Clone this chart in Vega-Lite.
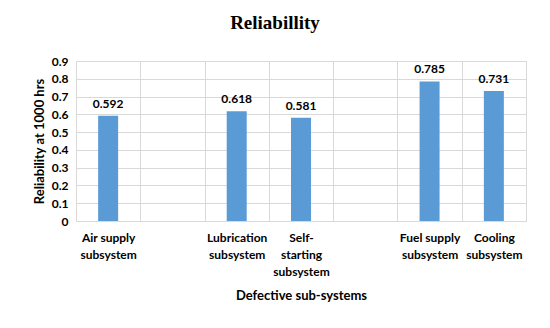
{
  "$schema": "https://vega.github.io/schema/vega-lite/v6.json",
  "width": 450,
  "height": 160,
  "autosize": {"type": "none"},
  "padding": {"left": 76, "top": 61, "right": 24, "bottom": 107},
  "background": "white",
  "title": {
    "text": "Reliabillity",
    "font": "Liberation Serif",
    "fontSize": 19,
    "fontWeight": "bold",
    "color": "#000000",
    "dx": -26,
    "offset": 22
  },
  "data": {
    "values": [
      {"subsystem": "Air supply subsystem", "reliability": 0.592},
      {"subsystem": "Lubrication subsystem", "reliability": 0.618},
      {"subsystem": "Self-starting subsystem", "reliability": 0.581},
      {"subsystem": "Fuel supply subsystem", "reliability": 0.785},
      {"subsystem": "Cooling subsystem", "reliability": 0.731}
    ]
  },
  "encoding": {
    "x": {
      "field": "subsystem",
      "type": "nominal",
      "sort": null,
      "scale": {
        "domain": ["Air supply subsystem", "gap1", "Lubrication subsystem", "Self-starting subsystem", "gap2", "Fuel supply subsystem", "Cooling subsystem"],
        "paddingInner": 0,
        "paddingOuter": 0
      },
      "axis": {
        "title": "Defective sub-systems",
        "titleFont": "Lato",
        "titleFontSize": 13,
        "titleFontWeight": "bold",
        "titleColor": "#000000",
        "titlePadding": 12,
        "labelAngle": 0,
        "labelFont": "Lato",
        "labelFontSize": 12,
        "labelFontWeight": "bold",
        "labelColor": "#000000",
        "labelPadding": 11,
        "labelLineHeight": 17,
        "labelOverlap": false,
        "labelBound": false,
        "labelExpr": "!isString(datum.value) || datum.value == 'gap1' || datum.value == 'gap2' ? '' : (datum.value == 'Self-starting subsystem' ? ['Self-', 'starting', 'subsystem'] : [replace(datum.value, ' subsystem', ''), 'subsystem'])",
        "tickBand": "extent",
        "grid": true,
        "gridColor": "#d9d9d9",
        "ticks": false,
        "domain": false
      }
    },
    "y": {
      "field": "reliability",
      "type": "quantitative",
      "scale": {"domain": [0, 0.9]},
      "axis": {
        "title": "Reliability at 1000 hrs",
        "titleFont": "Lato",
        "titleFontSize": 13,
        "titleFontWeight": "bold",
        "titleColor": "#000000",
        "titlePadding": 5,
        "values": [0, 0.1, 0.2, 0.3, 0.4, 0.5, 0.6, 0.7, 0.8, 0.9],
        "labelExpr": "datum.value == 0 ? '0' : format(datum.value, '.1f')",
        "labelFont": "Lato",
        "labelFontSize": 12,
        "labelFontWeight": "bold",
        "labelColor": "#000000",
        "labelPadding": 8,
        "gridColor": "#d9d9d9",
        "ticks": false,
        "domain": false
      }
    }
  },
  "layer": [
    {"mark": {"type": "bar", "width": 20, "color": "#5b9bd5"}},
    {
      "mark": {"type": "text", "baseline": "bottom", "dy": -5, "font": "Lato", "fontSize": 12, "fontWeight": "bold", "color": "#000000"},
      "encoding": {"text": {"field": "reliability", "type": "quantitative", "format": ".3f"}}
    }
  ],
  "config": {"view": {"stroke": "#d9d9d9"}}
}
